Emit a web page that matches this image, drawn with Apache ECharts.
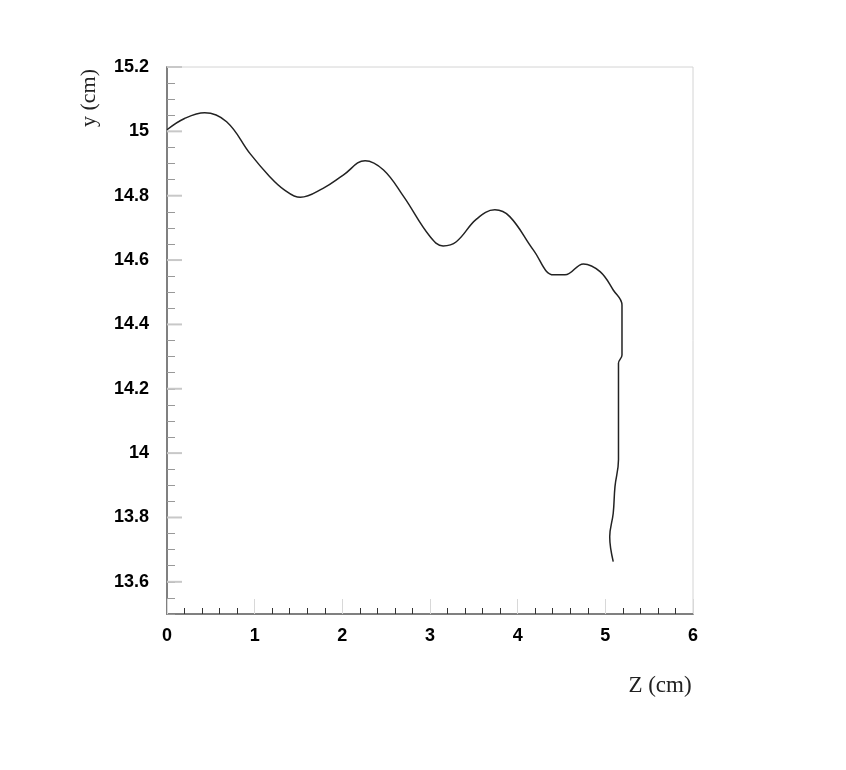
<!DOCTYPE html>
<html><head><meta charset="utf-8">
<script src="https://cdn.jsdelivr.net/npm/echarts@6/dist/echarts.min.js"></script>
<style>html,body{margin:0;padding:0;background:#fff}#c{width:846px;height:770px}</style>
</head><body><div id="c"></div>
<script>
const zValues = [0, 0.2, 0.43, 0.68, 0.95, 1.17, 1.33, 1.52, 1.78, 2.01, 2.26, 2.47, 2.70, 3.0, 3.15, 3.30, 3.53, 3.74, 3.91, 4.18, 4.41, 4.54, 4.75, 4.94, 5.09, 5.19, 5.19, 5.15, 5.15, 5.15, 5.11, 5.09, 5.05, 5.09];
const yValues = [15.005, 15.04, 15.058, 15.03, 14.93, 14.86, 14.82, 14.795, 14.823, 14.864, 14.909, 14.88, 14.797, 14.673, 14.644, 14.657, 14.727, 14.756, 14.735, 14.631, 14.554, 14.554, 14.588, 14.564, 14.507, 14.46, 14.305, 14.279, 14.124, 13.979, 13.896, 13.813, 13.74, 13.663];
const yMajorTicks = [13.6, 13.8, 14.0, 14.2, 14.4, 14.6, 14.8, 15.0, 15.2];
const xTickLabels = [0, 1, 2, 3, 4, 5, 6];

const chart = echarts.init(document.getElementById('c'));
const pts = zValues.map((z, i) => [z, yValues[i]]);
chart.setOption({
  animation: false,
  grid: {left: 167, top: 67, width: 526, height: 547, show: true, borderColor: '#d4d4d4', borderWidth: 1},
  xAxis: {
    type: 'value', min: 0, max: 6, interval: 1,
    axisLine: {show: true, onZero: false, lineStyle: {color: '#808080', width: 2}},
    axisTick: {show: true, inside: true, length: 15, lineStyle: {color: '#d8d8d8', width: 1}},
    minorTick: {show: true, splitNumber: 5, length: 6, lineStyle: {color: '#333', width: 1}},
    splitLine: {show: false},
    axisLabel: {color: '#000', fontSize: 18, fontWeight: 'bold', fontFamily: 'Liberation Sans', margin: 13,
      formatter: v => xTickLabels.includes(v) ? String(v) : ''}
  },
  yAxis: {
    type: 'value', min: 13.5, max: 15.2, interval: 0.05,
    axisLine: {show: true, onZero: false, lineStyle: {color: '#808080', width: 2}},
    axisTick: {show: true, inside: true, length: 8, lineStyle: {color: '#999', width: 1}},
    splitLine: {show: false},
    axisLabel: {color: '#000', fontSize: 18, fontWeight: 'bold', fontFamily: 'Liberation Sans', margin: 18,
      formatter: v => {
        const m = yMajorTicks.find(t => Math.abs(t - v) < 1e-6);
        return m === undefined ? '' : String(parseFloat(m.toFixed(1)));
      }}
  },
  series: [
    {
      type: 'custom', silent: true, z: 5,
      data: yMajorTicks.map(v => [0, v]),
      renderItem: (params, api) => {
        const p = api.coord([api.value(0), api.value(1)]);
        return {type: 'line', shape: {x1: p[0], y1: p[1], x2: p[0] + 15, y2: p[1]}, style: {stroke: '#c8c8c8', lineWidth: 2}};
      }
    },
    {
      type: 'line', data: pts, smooth: 0.4, showSymbol: false,
      lineStyle: {color: '#222', width: 1.5}
    }
  ],
  graphic: [
    {type: 'text', x: 89, y: 98, rotation: Math.PI / 2,
      style: {text: 'y (cm)', fill: '#222', font: '22px "Liberation Serif"', textAlign: 'center', textVerticalAlign: 'middle'}},
    {type: 'text', x: 660, y: 686,
      style: {text: 'Z (cm)', fill: '#222', font: '23px "Liberation Serif"', textAlign: 'center', textVerticalAlign: 'middle'}}
  ]
});
</script></body></html>
